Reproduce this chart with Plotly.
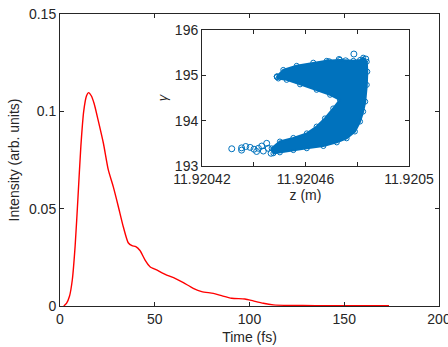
import plotly.graph_objects as go

# Main curve: intensity vs time
time_fs = [2, 3.5, 5, 6.5, 8, 9.5, 11, 12.5, 14, 15, 16.5, 18, 20, 22.9, 25.5, 28.1,
           30.8, 33.4, 36, 38, 40, 42.2, 44.9, 47.5, 51, 56.3, 60.7, 65.1, 70.3, 74.8,
           80.9, 85.3, 90.6, 97.6, 102, 107.3, 112.6, 121, 135, 150, 173.6]
intensity = [0, 0.0015, 0.005, 0.0135, 0.031, 0.056, 0.082, 0.100, 0.108, 0.1096,
             0.108, 0.104, 0.096, 0.0836, 0.0699, 0.0613, 0.051, 0.0407, 0.0325,
             0.0310, 0.0305, 0.0285, 0.0236, 0.0202, 0.0185, 0.0159, 0.0142, 0.012,
             0.0091, 0.0074, 0.0065, 0.0053, 0.004, 0.0036, 0.0026, 0.0014, 0.0006,
             0.0003, 0.0002, 0.0002, 0.0002]

# Inset: phase space envelope (dense cloud outline)
cloud_z = [11.9204489, 11.9204514, 11.9204566, 11.9204630, 11.9204682, 11.9204733,
           11.9204785, 11.9204811, 11.9204823, 11.9204837, 11.9204839, 11.9204837,
           11.9204831, 11.9204823, 11.9204811, 11.9204791, 11.9204759, 11.9204721,
           11.9204669, 11.9204605, 11.9204553, 11.9204501, 11.9204476, 11.9204469,
           11.9204501, 11.9204553, 11.9204605, 11.9204643, 11.9204675, 11.9204707,
           11.9204733, 11.9204695, 11.9204643, 11.9204579, 11.9204527, 11.9204495,
           11.9204489]
cloud_gamma = [194.97, 195.12, 195.21, 195.28, 195.32, 195.34, 195.32, 195.34, 195.39,
               195.30, 195.08, 194.79, 194.42, 194.20, 193.98, 193.76, 193.61, 193.52,
               193.44, 193.39, 193.35, 193.30, 193.28, 193.39, 193.54, 193.62, 193.72,
               193.87, 194.05, 194.27, 194.46, 194.57, 194.68, 194.80, 194.90, 194.93,
               194.97]
# Isolated particles
outlier_z = [11.9204315, 11.9204353, 11.9204353, 11.9204369, 11.9204386, 11.9204401,
             11.9204411, 11.9204418, 11.9204431, 11.9204450, 11.9204437, 11.9204467,
             11.9204456, 11.9204787, 11.9204833, 11.9204730, 11.9204755, 11.9204691,
             11.9204491]
outlier_gamma = [193.38, 193.40, 193.35, 193.43, 193.41, 193.37, 193.32, 193.39, 193.44,
                 193.50, 193.33, 193.28, 193.39, 195.47, 195.36, 195.35, 195.32, 195.30,
                 194.97]

main_xticks = [0, 50, 100, 150, 200]
main_yticks = [0, 0.05, 0.1, 0.15]
main_yticktext = ["0", "0.05", "0.1", "0.15"]
inset_xticks = [11.92042, 11.92044, 11.92046, 11.92048, 11.9205]
inset_xticktext = ["11.92042", "", "11.92046", "", "11.9205"]
inset_yticks = [193, 194, 195, 196]

BLUE = "#0072BD"
AX = "#262626"
FONT = "Liberation Sans, Arial, sans-serif"

fig = go.Figure()
fig.add_trace(go.Scatter(x=time_fs, y=intensity, mode="lines", line=dict(color="#FF0000", width=1.4, shape="spline", smoothing=0.6),
                         xaxis="x", yaxis="y", showlegend=False))
fig.add_trace(go.Scatter(x=cloud_z, y=cloud_gamma, mode="lines+markers", fill="toself",
                         fillcolor=BLUE, line=dict(color=BLUE, width=2),
                         marker=dict(symbol="circle-open", size=5, color=BLUE, line=dict(width=1)),
                         xaxis="x2", yaxis="y2", showlegend=False))
fig.add_trace(go.Scatter(x=outlier_z, y=outlier_gamma, mode="markers",
                         marker=dict(symbol="circle-open", size=6, color=BLUE, line=dict(width=1)),
                         xaxis="x2", yaxis="y2", showlegend=False))

axcommon = dict(showline=True, linecolor=AX, linewidth=1, mirror="ticks", ticks="inside",
                tickcolor=AX, ticklen=4, tickwidth=1, showgrid=False, zeroline=False,
                automargin=False, ticklabeloverflow="allow",
                tickfont=dict(family=FONT, size=14, color=AX))

fig.update_layout(
    width=448, height=347,
    margin=dict(l=60, r=9, t=14, b=41),
    paper_bgcolor="white", plot_bgcolor="white",
    font=dict(family=FONT, size=14, color=AX),
    xaxis=dict(domain=[0, 1], range=[0, 200], tickvals=main_xticks,
               title=dict(text="Time (fs)", standoff=6, font=dict(size=14)), **axcommon),
    yaxis=dict(domain=[0, 1], range=[0, 0.15], tickvals=main_yticks, ticktext=main_yticktext,
               title=dict(text="Intensity (arb. units)", standoff=6, font=dict(size=14)), **axcommon),
    xaxis2=dict(domain=[0.3747, 0.9208], anchor="y2", range=[11.92042, 11.9205],
                tickvals=inset_xticks, ticktext=inset_xticktext,
                title=dict(text="z (m)", standoff=4, font=dict(size=14)), **axcommon),
    yaxis2=dict(domain=[0.4795, 0.9452], anchor="x2", range=[193, 196], tickvals=inset_yticks,
                title=dict(text="<i>γ</i>", standoff=4, font=dict(size=13)), **axcommon),
)
fig.write_html("out.html", config={"displayModeBar": False},
               post_script="document.body.style.margin='0';document.body.style.padding='0';")
